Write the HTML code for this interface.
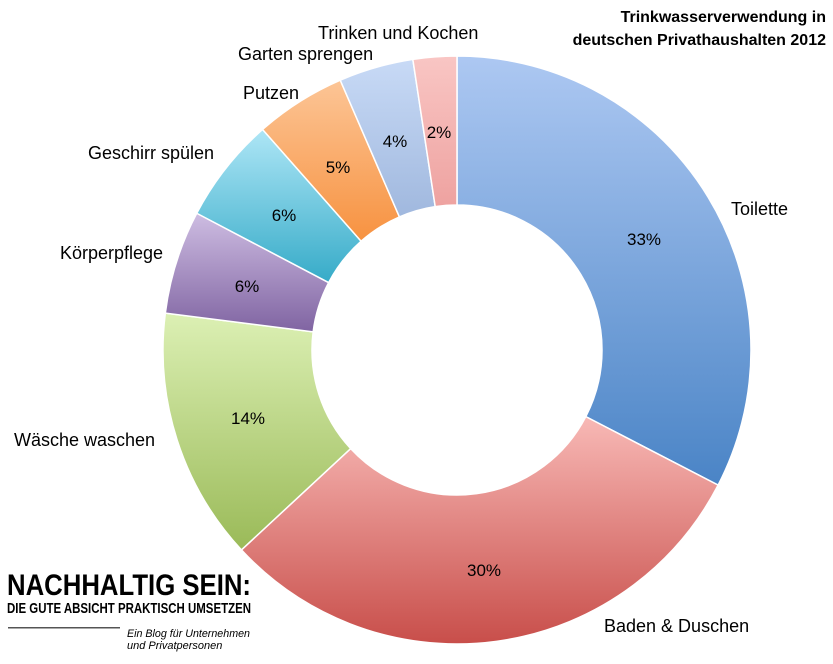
<!DOCTYPE html>
<html><head><meta charset="utf-8"><style>
html,body{margin:0;padding:0;background:#fff;width:833px;height:664px;overflow:hidden}
svg{display:block}
text{font-family:"Liberation Sans",sans-serif}
</style></head><body>
<svg id="s" width="833" height="664" viewBox="0 0 833 664">
<defs>
<linearGradient id="g0" x1="0" y1="0" x2="0" y2="1"><stop offset="0" stop-color="#adc8f2"/><stop offset="1" stop-color="#4a84c6"/></linearGradient>
<linearGradient id="g1" x1="0" y1="0" x2="0" y2="1"><stop offset="0" stop-color="#f8b9b6"/><stop offset="1" stop-color="#c84e4a"/></linearGradient>
<linearGradient id="g2" x1="0" y1="0" x2="0" y2="1"><stop offset="0" stop-color="#dcf0b4"/><stop offset="1" stop-color="#9aba58"/></linearGradient>
<linearGradient id="g3" x1="0" y1="0" x2="0" y2="1"><stop offset="0" stop-color="#cebde2"/><stop offset="1" stop-color="#8064a2"/></linearGradient>
<linearGradient id="g4" x1="0" y1="0" x2="0" y2="1"><stop offset="0" stop-color="#aee6f6"/><stop offset="1" stop-color="#36abc8"/></linearGradient>
<linearGradient id="g5" x1="0" y1="0" x2="0" y2="1"><stop offset="0" stop-color="#fcc596"/><stop offset="1" stop-color="#f79240"/></linearGradient>
<linearGradient id="g6" x1="0" y1="0" x2="0" y2="1"><stop offset="0" stop-color="#c8daf6"/><stop offset="1" stop-color="#a0b8de"/></linearGradient>
<linearGradient id="g7" x1="0" y1="0" x2="0" y2="1"><stop offset="0" stop-color="#f9c6c4"/><stop offset="1" stop-color="#eea2a0"/></linearGradient>
</defs>
<g id="slices"></g>
<g font-size="17" fill="#000" text-anchor="middle">
<text x="644" y="245">33%</text>
<text x="484" y="576">30%</text>
<text x="248" y="424">14%</text>
<text x="247" y="292">6%</text>
<text x="284" y="221">6%</text>
<text x="338" y="173">5%</text>
<text x="395" y="147">4%</text>
<text x="439" y="138">2%</text>
</g>
<g font-size="18" fill="#000">
<text x="731" y="215">Toilette</text>
<text x="604" y="632">Baden &amp; Duschen</text>
<text x="14" y="446">Wäsche waschen</text>
<text x="60" y="259">Körperpflege</text>
<text x="88" y="159">Geschirr spülen</text>
<text x="243" y="99">Putzen</text>
<text x="238" y="60">Garten sprengen</text>
<text x="318" y="39">Trinken und Kochen</text>
</g>
<g font-size="16" font-weight="bold" text-anchor="end">
<text x="826" y="22">Trinkwasserverwendung in</text>
<text x="826" y="45">deutschen Privathaushalten 2012</text>
</g>
<text x="7" y="595" font-family="Liberation Sans Narrow,Liberation Sans,sans-serif" font-weight="bold" font-size="30" textLength="244" lengthAdjust="spacingAndGlyphs">NACHHALTIG SEIN:</text>
<text x="7" y="613" font-family="Liberation Sans Narrow,Liberation Sans,sans-serif" font-weight="bold" font-size="15" textLength="244" lengthAdjust="spacingAndGlyphs">DIE GUTE ABSICHT PRAKTISCH UMSETZEN</text>
<rect x="8" y="627" width="112" height="1.5" fill="#555"/>
<text x="127" y="637" font-family="Liberation Serif,serif" font-style="italic" font-size="11" textLength="123" lengthAdjust="spacingAndGlyphs">Ein Blog für Unternehmen</text>
<text x="127" y="649" font-family="Liberation Serif,serif" font-style="italic" font-size="11">und Privatpersonen</text>
</svg>
<script>
var cx=457,cy=350,R=294,r=145;
var v=[32.6,30.5,13.9,5.7,5.8,5.0,4.1,2.4];var a=0;var h='';
function p(rad,ang){return [cx+rad*Math.sin(ang),cy-rad*Math.cos(ang)];}
for(var i=0;i<v.length;i++){
 var a0=a/100*2*Math.PI;a+=v[i];var a1=a/100*2*Math.PI;
 var l=(a1-a0)>Math.PI?1:0;
 var o0=p(R,a0),o1=p(R,a1),i1=p(r,a1),i0=p(r,a0);
 h+='<path d="M'+o0+' A'+R+','+R+' 0 '+l+' 1 '+o1+' L'+i1+' A'+r+','+r+' 0 '+l+' 0 '+i0+' Z" fill="url(#g'+i+')" stroke="#fff" stroke-width="1.5"/>';
}
document.getElementById('slices').innerHTML=h;
</script>
</body></html>
